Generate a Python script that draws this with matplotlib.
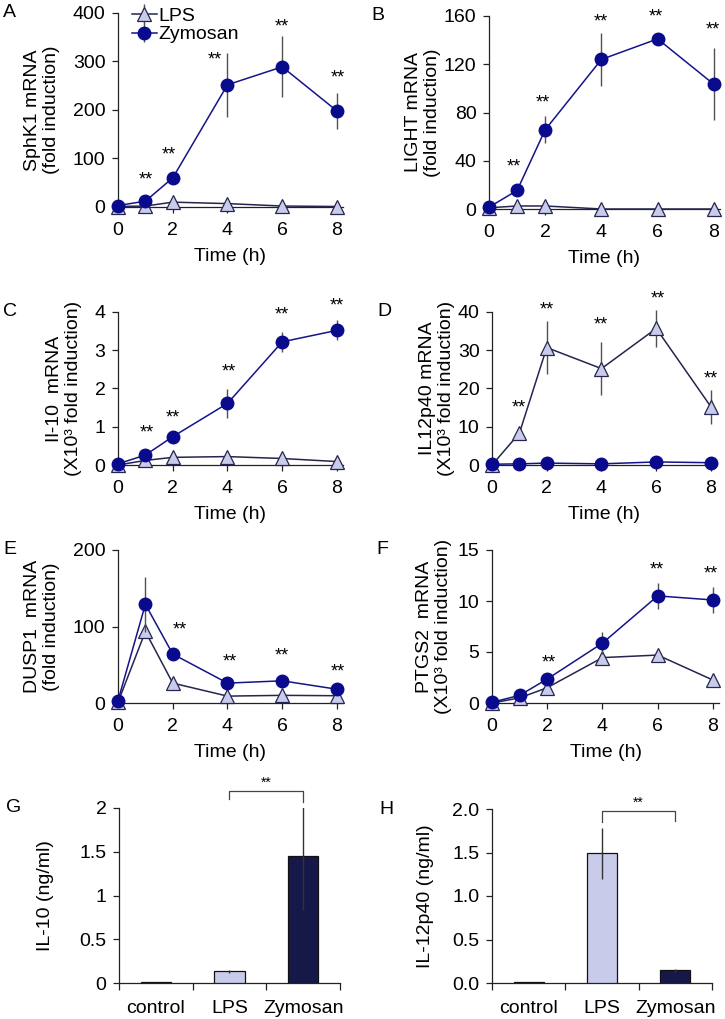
import matplotlib.pyplot as plt

plt.rcParams['font.family'] = ['Liberation Sans', 'DejaVu Sans']
plt.rcParams['font.size'] = 10

time = [0, 1, 2, 4, 6, 8]

# A - SphK1
sphk1_lps = [1, 2, 10, 7, 2, 1]
sphk1_lps_err = [0, 1, 2, 2, 1, 0]
sphk1_zym = [3, 12, 60, 252, 289, 198]
sphk1_zym_err = [1, 4, 6, 66, 63, 37]
sphk1_star_x = [1, 1.85, 3.55, 5.97, 8.04]
sphk1_star_y = [55, 107, 303, 372, 266]

# B - LIGHT
light_lps = [1, 2.5, 2.5, 0, 0, 0]
light_lps_err = [0, 0.5, 0.5, 0, 0, 0]
light_zym = [1.5, 15.4, 65.7, 124, 141, 103.4]
light_zym_err = [0.5, 4, 11, 22, 2, 30]
light_star_x = [0.9, 1.9, 3.97, 5.95, 7.97]
light_star_y = [35, 88, 155, 159, 148]

# C - Il-10
il10_lps = [0, 0.12, 0.2, 0.22, 0.17, 0.09]
il10_lps_err = [0, 0.02, 0.02, 0.02, 0.02, 0.01]
il10_zym = [0.03, 0.26, 0.74, 1.61, 3.22, 3.52]
il10_zym_err = [0.01, 0.04, 0.05, 0.38, 0.26, 0.26]
il10_star_x = [1.05, 1.99, 4.05, 5.98, 8.0]
il10_star_y = [0.83, 1.22, 2.43, 3.91, 4.17]

# D - IL12p40
il12_lps = [0, 8.3, 30.7, 25.2, 35.7, 15.2]
il12_lps_err = [0, 0.5, 7, 7, 4.8, 4.5]
il12_zym = [0.2, 0.3, 0.5, 0.3, 0.8, 0.6]
il12_zym_err = [0, 0.1, 0.1, 0.1, 0.2, 0.1]
il12_star_x = [0.98, 2.0, 3.97, 6.05, 8.0]
il12_star_y = [14.8, 40.4, 36.5, 43.5, 22.6]

# E - DUSP1
dusp1_lps = [1, 93.5, 26, 9, 10, 9.5]
dusp1_lps_err = [0, 5, 2, 1, 1, 1]
dusp1_zym = [3, 129, 64, 26, 29, 18]
dusp1_zym_err = [1, 36, 3, 2, 2, 2]
dusp1_star_x = [2.26, 4.08, 5.98, 8.04]
dusp1_star_y = [95.6, 54, 61, 41]

# F - PTGS2
ptgs2_lps = [0, 0.5, 1.5, 4.45, 4.7, 2.25]
ptgs2_lps_err = [0, 0.05, 0.1, 0.2, 0.2, 0.2]
ptgs2_zym = [0.07, 0.75, 2.35, 5.87, 10.5, 10.1]
ptgs2_zym_err = [0.02, 0.1, 0.2, 1.05, 1.3, 1.25]
ptgs2_star_x = [2.04, 5.98, 7.94]
ptgs2_star_y = [3.9, 13.05, 12.65]

# G / H - protein
groups = ['control', 'LPS', 'Zymosan']
il10_protein = [0.01, 0.134, 1.45]
il10_protein_err = [0, 0.02, 0.62]
il12_protein = [0.01, 1.49, 0.146]
il12_protein_err = [0, 0.29, 0.02]

lps_face = '#c9cbeb'
lps_line = '#25254f'
zym_face = '#0a0a8c'
zym_line = '#14148a'
err_col = '#505050'
bar_cols = ['#a0a0a0', '#c9cbeb', '#17184a']

fig = plt.figure(figsize=(7.25, 10.19), dpi=100)


def style_axes(ax):
    for s in ['top', 'right']:
        ax.spines[s].set_visible(False)
    for s in ['left', 'bottom']:
        ax.spines[s].set_color('#222222')
        ax.spines[s].set_linewidth(0.9)
    ax.tick_params(direction='out', length=4, width=0.9, labelsize=14, pad=5,
                   color='#222222')
    ax.tick_params(axis='x', pad=7)


def time_panel(rect, lps, lps_err, zym, zym_err, ymax, yticks, ylabel,
               star_x, star_y, letter, lpad, legend=False):
    ax = fig.add_axes(rect)
    ax.errorbar(time, lps, yerr=lps_err, color=lps_line, lw=1.1,
                marker='^', ms=10, mfc=lps_face, mec=lps_line, mew=0.9,
                ecolor=err_col, elinewidth=1, capsize=0, clip_on=False,
                label='LPS', zorder=3)
    ax.errorbar(time, zym, yerr=zym_err, color=zym_line, lw=1.1,
                marker='o', ms=9, mfc=zym_face, mec=zym_face,
                ecolor=err_col, elinewidth=1, capsize=0, clip_on=False,
                label='Zymosan', zorder=4)
    for x, y in zip(star_x, star_y):
        ax.text(x, y, '**', ha='center', va='center', fontsize=13)
    ax.set_xlim(0, 8.22)
    ax.set_ylim(0, ymax)
    ax.set_xticks([0, 2, 4, 6, 8])
    ax.set_yticks(yticks)
    ax.set_xlabel('Time (h)', fontsize=14, labelpad=6)
    ax.set_ylabel(ylabel, fontsize=14, labelpad=lpad, linespacing=1.15)
    style_axes(ax)
    ax.text(-0.51, 1.0, letter, transform=ax.transAxes, fontsize=14,
            ha='left', va='center')
    if legend:
        ax.legend(loc='upper left', bbox_to_anchor=(0.0, 1.1), frameon=False,
                  fontsize=14, handlelength=1.3, handletextpad=0.1,
                  labelspacing=0.05, borderaxespad=0.3)
    return ax


W, H = 725.0, 1019.0


def rect(l, r, b, t):
    return [l / W, 1 - b / H, (r - l) / W, (b - t) / H]


time_panel(rect(118, 343, 207, 13), sphk1_lps, sphk1_lps_err, sphk1_zym,
           sphk1_zym_err, 400, [0, 100, 200, 300, 400],
           'SphK1 mRNA\n(fold induction)', sphk1_star_x, sphk1_star_y, 'A',
           9, legend=True)
time_panel(rect(489, 720, 209, 16), light_lps, light_lps_err, light_zym,
           light_zym_err, 160, [0, 40, 80, 120, 160],
           'LIGHT mRNA\n(fold induction)', light_star_x, light_star_y, 'B', 2)
time_panel(rect(118, 343, 465, 312), il10_lps, il10_lps_err, il10_zym,
           il10_zym_err, 4, [0, 1, 2, 3, 4],
           'Il-10  mRNA\n(X10³ fold induction)', il10_star_x, il10_star_y, 'C',
           9)
time_panel(rect(492, 717, 465, 312), il12_lps, il12_lps_err, il12_zym,
           il12_zym_err, 40, [0, 10, 20, 30, 40],
           'IL12p40 mRNA\n(X10³ fold induction)', il12_star_x, il12_star_y, 'D',
           2)
time_panel(rect(118, 343, 703, 550), dusp1_lps, dusp1_lps_err, dusp1_zym,
           dusp1_zym_err, 200, [0, 100, 200],
           'DUSP1  mRNA\n(fold induction)', dusp1_star_x, dusp1_star_y, 'E', 9)
time_panel(rect(492, 719, 703, 550), ptgs2_lps, ptgs2_lps_err, ptgs2_zym,
           ptgs2_zym_err, 15, [0, 5, 10, 15],
           'PTGS2  mRNA\n(X10³ fold induction)', ptgs2_star_x, ptgs2_star_y, 'F',
           4)


def bar_panel(rect_, vals, errs, ylabel, yticklabels, letter, bracket, lpad):
    ax = fig.add_axes(rect_)
    x = range(len(groups))
    ax.bar(x, vals, width=0.41, color=bar_cols, edgecolor='#111111', lw=0.9,
           zorder=3)
    ax.errorbar(x, vals, yerr=errs, fmt='none', ecolor='#333333',
                elinewidth=1, capsize=0, zorder=4)
    ax.set_xlim(-0.5, 2.5)
    ax.set_ylim(0, 2)
    ax.set_yticks([0, 0.5, 1, 1.5, 2])
    ax.set_yticklabels(yticklabels)
    ax.set_xticks(list(x))
    ax.set_xticklabels(groups)
    ax.set_xticks([-0.5, 0.5, 1.5, 2.5], minor=True)
    style_axes(ax)
    ax.tick_params(axis='x', which='major', length=0, pad=12)
    ax.tick_params(axis='x', which='minor', direction='out', length=5,
                   width=0.9, color='#222222')
    ax.set_ylabel(ylabel, fontsize=14, labelpad=lpad)
    y_left, y_top, y_right, y_star = bracket
    ax.plot([1, 1, 2, 2], [y_left, y_top, y_top, y_right], color='#444444',
            lw=0.9, clip_on=False)
    ax.text(1.5, y_star, '**', ha='center', va='center', fontsize=10)
    ax.text(-0.51, 1.0, letter, transform=ax.transAxes, fontsize=14,
            ha='left', va='center')
    return ax


bar_panel(rect(119, 340, 983, 808), il10_protein, il10_protein_err,
          'IL-10 (ng/ml)', ['0', '0.5', '1', '1.5', '2'], 'G',
          (2.1, 2.2, 2.07, 2.29), 18)
bar_panel(rect(492, 712, 983, 809), il12_protein, il12_protein_err,
          'IL-12p40 (ng/ml)', ['0.0', '0.5', '1.0', '1.5', '2.0'], 'H',
          (1.85, 1.98, 1.86, 2.07), 13)

fig.savefig('out.png', dpi=100)
